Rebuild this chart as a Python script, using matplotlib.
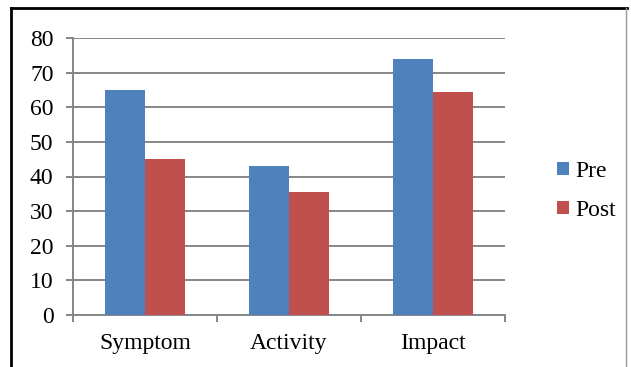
import numpy as np
import matplotlib
matplotlib.use('Agg')
import matplotlib.pyplot as plt
from matplotlib.lines import Line2D

categories = ['Symptom', 'Activity', 'Impact']
pre = [65, 43, 74]
post = [45, 35.5, 64.5]
series_names = ['Pre', 'Post']

BLUE = '#4F81BD'
RED = '#C0504D'
GRID = '#868686'

plt.rcParams['font.family'] = ['Liberation Serif', 'DejaVu Serif']
plt.rcParams['font.size'] = 17

W, H = 631, 367
fig = plt.figure(figsize=(W / 100, H / 100), dpi=100)
ax = fig.add_axes([73 / W, 1 - 315 / H, (505 - 73) / W, (315 - 38) / H])

x = np.arange(len(categories))
w = 0.281
ax.bar(x - w / 2, pre, w, color=BLUE, label=series_names[0], zorder=3)
ax.bar(x + w / 2, post, w, color=RED, label=series_names[1], zorder=3)

ax.set_xlim(-0.5, len(categories) - 0.5)
ax.set_ylim(0, 80)
ax.set_yticks(range(0, 81, 10))
ax.set_xticks(x)
ax.set_xticklabels(categories)
ax.set_xticks(np.arange(-0.5, len(categories), 1), minor=True)

ax.grid(axis='y', color=GRID, linewidth=1.4, zorder=0)
ax.tick_params(axis='y', length=5, width=1.4, color=GRID, pad=9)
ax.tick_params(axis='x', which='major', length=0, pad=13)
ax.tick_params(axis='x', which='minor', length=5, width=1.4, color=GRID)

for s in ['top', 'right']:
    ax.spines[s].set_visible(False)
for s in ['left', 'bottom']:
    ax.spines[s].set_color(GRID)
    ax.spines[s].set_linewidth(1.4)

fig.legend(loc='center left', bbox_to_anchor=(545 / W, 1 - 191 / H),
           frameon=False, handlelength=0.5, handleheight=0.5,
           handletextpad=0.3, labelspacing=0.75, borderpad=0)

# chart border (cropped at the bottom)
fig.add_artist(Line2D([11 / W, 627 / W], [1 - 8 / H, 1 - 8 / H], color='black', linewidth=2))
fig.add_artist(Line2D([11 / W, 11 / W], [0, 1 - 8 / H], color='black', linewidth=2))
fig.add_artist(Line2D([626 / W, 626 / W], [0, 1 - 8 / H], color='#999999', linewidth=1))

fig.savefig('out.png', dpi=100)
